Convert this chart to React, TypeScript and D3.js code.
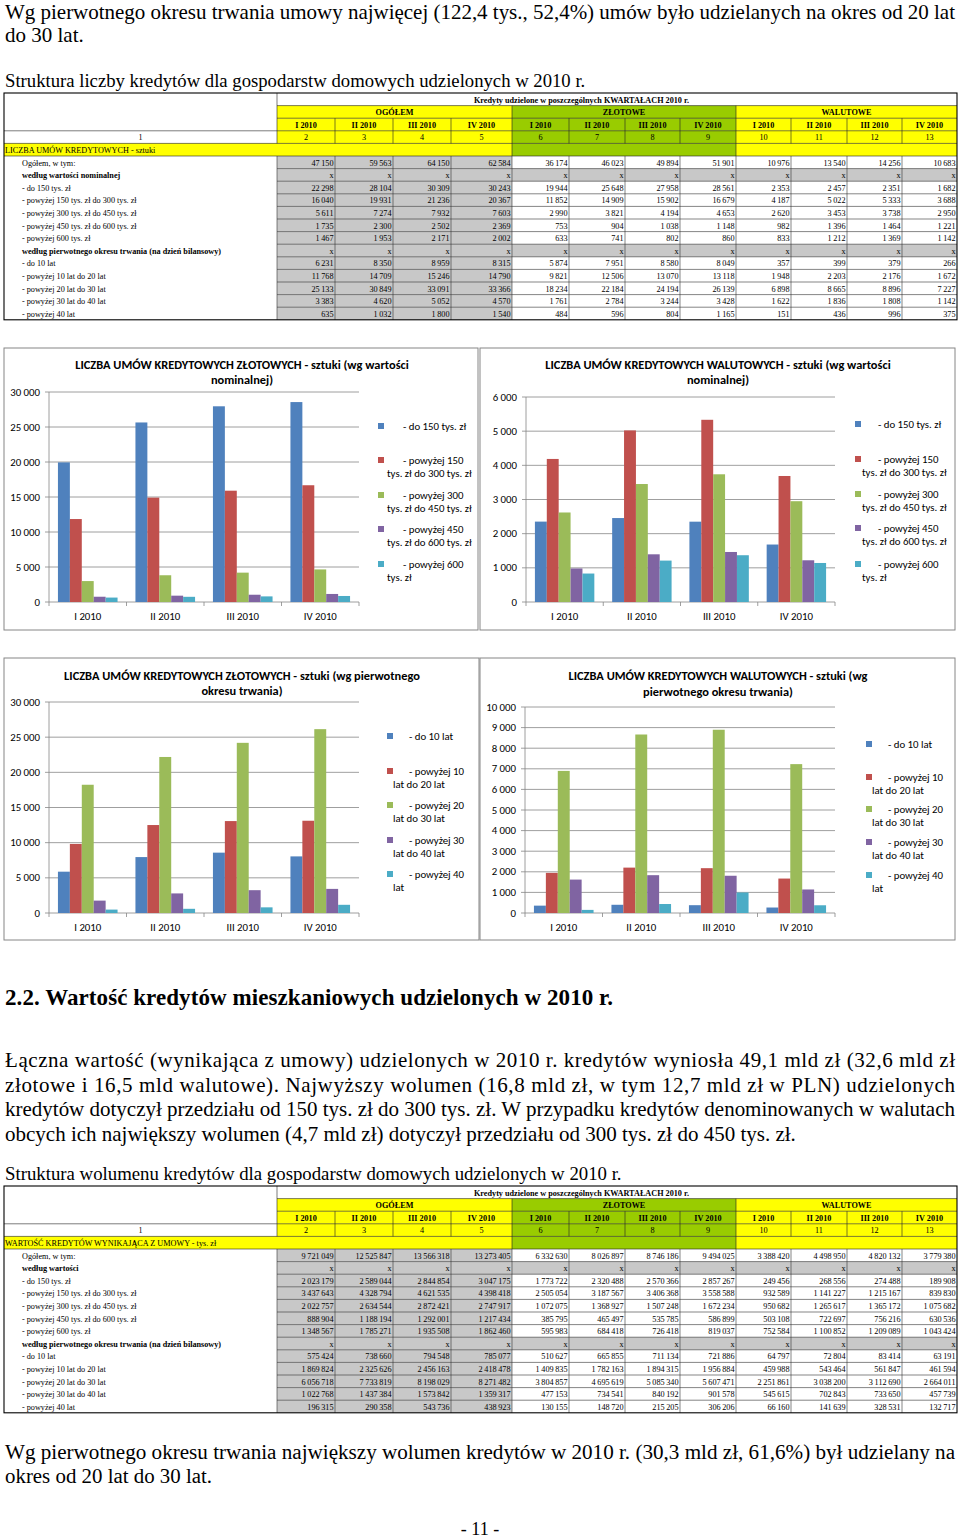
import React from 'react';
import * as d3 from 'd3';

const W = 960;
const H = 1539;

// ---------- data ----------
const quarters = ['I 2010', 'II 2010', 'III 2010', 'IV 2010'];
const colHeaders = ['I 2010', 'II 2010', 'III 2010', 'IV 2010', 'I 2010', 'II 2010', 'III 2010', 'IV 2010', 'I 2010', 'II 2010', 'III 2010', 'IV 2010'];
const groupHeaders = ['OGÓŁEM', 'ZŁOTOWE', 'WALUTOWE'];
const colNumbers = ['1', '2', '3', '4', '5', '6', '7', '8', '9', '10', '11', '12', '13'];

const rowLabels1 = [
  'Ogółem, w tym:',
  'według wartości nominalnej',
  '- do 150 tys. zł',
  '- powyżej 150 tys. zł do 300 tys. zł',
  '- powyżej 300 tys. zł do 450 tys. zł',
  '- powyżej 450 tys. zł do 600 tys. zł',
  '- powyżej 600 tys. zł',
  'według pierwotnego okresu trwania (na dzień bilansowy)',
  '- do 10 lat',
  '- powyżej 10 lat do 20 lat',
  '- powyżej 20 lat do 30 lat',
  '- powyżej 30 lat do 40 lat',
  '- powyżej 40 lat',
];
const rowLabels2 = rowLabels1.map((l, i) => (i === 1 ? 'według wartości' : l));
const boldRows = [1, 7];

// Table 1: number of contracts (pcs)
const cntTotal = [47150, 59563, 64150, 62584, 36174, 46023, 49894, 51901, 10976, 13540, 14256, 10683];
const cntV150 = [22298, 28104, 30309, 30243, 19944, 25648, 27958, 28561, 2353, 2457, 2351, 1682];
const cntV300 = [16040, 19931, 21236, 20367, 11852, 14909, 15902, 16679, 4187, 5022, 5333, 3688];
const cntV450 = [5611, 7274, 7932, 7603, 2990, 3821, 4194, 4653, 2620, 3453, 3738, 2950];
const cntV600 = [1735, 2300, 2502, 2369, 753, 904, 1038, 1148, 982, 1396, 1464, 1221];
const cntVOver = [1467, 1953, 2171, 2002, 633, 741, 802, 860, 833, 1212, 1369, 1142];
const cntP10 = [6231, 8350, 8959, 8315, 5874, 7951, 8580, 8049, 357, 399, 379, 266];
const cntP20 = [11768, 14709, 15246, 14790, 9821, 12506, 13070, 13118, 1948, 2203, 2176, 1672];
const cntP30 = [25133, 30849, 33091, 33366, 18234, 22184, 24194, 26139, 6898, 8665, 8896, 7227];
const cntP40 = [3383, 4620, 5052, 4570, 1761, 2784, 3244, 3428, 1622, 1836, 1808, 1142];
const cntPOver = [635, 1032, 1800, 1540, 484, 596, 804, 1165, 151, 436, 996, 375];

// Table 2: value (thousand PLN)
const valTotal = [9721049, 12525847, 13566318, 13273405, 6332630, 8026897, 8746186, 9494025, 3388420, 4498950, 4820132, 3779380];
const valV150 = [2023179, 2589044, 2844854, 3047175, 1773722, 2320488, 2570366, 2857267, 249456, 268556, 274488, 189908];
const valV300 = [3437643, 4328794, 4621535, 4398418, 2505054, 3187567, 3406368, 3558588, 932589, 1141227, 1215167, 839830];
const valV450 = [2022757, 2634544, 2872421, 2747917, 1072075, 1368927, 1507248, 1672234, 950682, 1265617, 1365172, 1075682];
const valV600 = [888904, 1188194, 1292001, 1217434, 385795, 465497, 535785, 586899, 503108, 722697, 756216, 630536];
const valVOver = [1348567, 1785271, 1935508, 1862460, 595983, 684418, 726418, 819037, 752584, 1100852, 1209089, 1043424];
const valP10 = [575424, 738660, 794548, 785077, 510627, 665855, 711134, 721886, 64797, 72804, 83414, 63191];
const valP20 = [1869824, 2325626, 2456163, 2418478, 1409835, 1782163, 1894315, 1956884, 459988, 543464, 561847, 461594];
const valP30 = [6056718, 7733819, 8198029, 8271482, 3804857, 4695619, 5085340, 5607471, 2251861, 3038200, 3112690, 2664011];
const valP40 = [1022768, 1437384, 1573842, 1359317, 477153, 734541, 840192, 901578, 545615, 702843, 733650, 457739];
const valPOver = [196315, 290358, 543736, 438923, 130155, 148720, 215205, 306206, 66160, 141639, 328531, 132717];

const table1Rows = [cntTotal, null, cntV150, cntV300, cntV450, cntV600, cntVOver, null, cntP10, cntP20, cntP30, cntP40, cntPOver];
const table2Rows = [valTotal, null, valV150, valV300, valV450, valV600, valVOver, null, valP10, valP20, valP30, valP40, valPOver];

const valueSeriesRows = [cntV150, cntV300, cntV450, cntV600, cntVOver];
const periodSeriesRows = [cntP10, cntP20, cntP30, cntP40, cntPOver];

const legendValue = [
  ['- do 150 tys. zł'],
  ['- powyżej 150', 'tys. zł do 300 tys. zł'],
  ['- powyżej 300', 'tys. zł do 450 tys. zł'],
  ['- powyżej 450', 'tys. zł do 600 tys. zł'],
  ['- powyżej 600', 'tys. zł'],
];
const legendPeriod = [
  ['- do 10 lat'],
  ['- powyżej 10', 'lat do 20 lat'],
  ['- powyżej 20', 'lat do 30 lat'],
  ['- powyżej 30', 'lat do 40 lat'],
  ['- powyżej 40', 'lat'],
];

const seriesColors = ['#4F81BD', '#C0504D', '#9BBB59', '#8064A2', '#4BACC6'];

// ---------- helpers ----------
const fmt = (v: number) => d3.format(',d')(v).replace(/,/g, '\u2009');
const fmtAxis = (v: number) => d3.format(',d')(v).replace(/,/g, ' ');

const SERIF = '"Liberation Serif", "Times New Roman", serif';
const SANS = 'Carlito, Lato, "Open Sans", sans-serif';

const colEdges = [4, 277, 335, 393, 451, 512, 569, 625, 680, 736, 791, 847, 902, 957];
const ROW_H = 12.6;
const YELLOW = '#FFFF00';
const GREEN = '#99CC00';
const GREY = '#C8C8C8';

function groupColor(c: number) {
  if (c < 4) return YELLOW;
  if (c < 8) return GREEN;
  return YELLOW;
}

function DataTable({ y0, section, labels, rows }: { y0: number; section: string; labels: string[]; rows: (number[] | null)[] }) {
  const ry = (r: number) => y0 + r * ROW_H;
  const left = colEdges[0];
  const right = colEdges[colEdges.length - 1];
  const lab = colEdges[1];
  const fills: React.ReactNode[] = [];
  const lines: React.ReactNode[] = [];
  const texts: React.ReactNode[] = [];
  const fs = 8.2;

  for (let r = 1; r <= 3; r++) {
    for (let c = 0; c < 12; c++) {
      fills.push(<rect key={`hf${r}-${c}`} x={colEdges[c + 1]} y={ry(r)} width={colEdges[c + 2] - colEdges[c + 1]} height={ROW_H} fill={groupColor(c)} />);
    }
  }
  fills.push(<rect key="s1" x={left} y={ry(4)} width={colEdges[5] - left} height={ROW_H} fill={YELLOW} />);
  fills.push(<rect key="s2" x={colEdges[5]} y={ry(4)} width={colEdges[9] - colEdges[5]} height={ROW_H} fill={GREEN} />);
  fills.push(<rect key="s3" x={colEdges[9]} y={ry(4)} width={right - colEdges[9]} height={ROW_H} fill={YELLOW} />);
  rows.forEach((row, i) => {
    const r = 5 + i;
    for (let c = 0; c < 12; c++) {
      if (row === null || c < 4) {
        fills.push(<rect key={`df${r}-${c}`} x={colEdges[c + 1]} y={ry(r)} width={colEdges[c + 2] - colEdges[c + 1]} height={ROW_H} fill={GREY} />);
      }
    }
  });

  const ln = (k: string, x1: number, y1: number, x2: number, y2: number, w = 0.6, col = '#222') =>
    lines.push(<line key={k} x1={x1} y1={y1} x2={x2} y2={y2} stroke={col} strokeWidth={w} />);

  ln('h1', lab, ry(1), right, ry(1));
  ln('h2', lab, ry(2), right, ry(2));
  ln('h3', left, ry(3), right, ry(3));
  ln('h4', left, ry(4), right, ry(4));
  ln('h5', left, ry(5), right, ry(5));
  ln('vl', lab, ry(0), lab, ry(4));
  [colEdges[5], colEdges[9]].forEach((x, i) => ln(`vg${i}`, x, ry(1), x, ry(2)));
  colEdges.slice(2, 13).forEach((x, i) => ln(`vq${i}`, x, ry(2), x, ry(4)));
  ln('vs1', colEdges[5], ry(4), colEdges[5], ry(5));
  ln('vs2', colEdges[9], ry(4), colEdges[9], ry(5));
  for (let r = 6; r < 18; r++) ln(`dh${r}`, lab, ry(r), right, ry(r), 0.6, '#333');
  colEdges.slice(1, 13).forEach((x, i) => ln(`dv${i}`, x, ry(5), x, ry(18), 0.6, '#333'));
  lines.push(<rect key="frame" x={left} y={ry(0)} width={right - left} height={18 * ROW_H} fill="none" stroke="#000" strokeWidth={1.1} />);

  texts.push(
    <text key="ttl" x={474} y={ry(1) - 3} fontSize={fs} fontWeight="bold" fontFamily={SERIF}>
      Kredyty udzielone w poszczególnych KWARTAŁACH 2010 r.
    </text>
  );
  groupHeaders.forEach((g, i) => {
    const x = (colEdges[1 + i * 4] + colEdges[5 + i * 4]) / 2;
    texts.push(
      <text key={`g${i}`} x={x} y={ry(2) - 3} fontSize={fs} fontWeight="bold" fontFamily={SERIF} textAnchor="middle">
        {g}
      </text>
    );
  });
  colHeaders.forEach((q, c) => {
    const x = (colEdges[c + 1] + colEdges[c + 2]) / 2;
    texts.push(
      <text key={`q${c}`} x={x} y={ry(3) - 3} fontSize={fs} fontWeight="bold" fontFamily={SERIF} textAnchor="middle">
        {q}
      </text>
    );
  });
  colNumbers.forEach((n, c) => {
    const x = (colEdges[c] + colEdges[c + 1]) / 2;
    texts.push(
      <text key={`n${c}`} x={x} y={ry(4) - 3} fontSize={fs} fontFamily={SERIF} textAnchor="middle">
        {n}
      </text>
    );
  });
  texts.push(
    <text key="sec" x={left + 1} y={ry(5) - 3} fontSize={fs} fontFamily={SERIF}>
      {section}
    </text>
  );
  rows.forEach((row, i) => {
    const r = 5 + i;
    texts.push(
      <text key={`l${r}`} x={22} y={ry(r + 1) - 3} fontSize={fs} fontFamily={SERIF} fontWeight={boldRows.includes(i) ? 'bold' : 'normal'}>
        {labels[i]}
      </text>
    );
    for (let c = 0; c < 12; c++) {
      texts.push(
        <text key={`v${r}-${c}`} x={colEdges[c + 2] - 1.5} y={ry(r + 1) - 3} fontSize={fs} fontFamily={SERIF} textAnchor="end">
          {row === null ? 'x' : fmt(row[c])}
        </text>
      );
    }
  });

  return (
    <g>
      <rect x={left} y={ry(0)} width={right - left} height={18 * ROW_H} fill="#fff" />
      {fills}
      {lines}
      {texts}
    </g>
  );
}

type ChartProps = {
  box: { x: number; y: number; w: number; h: number };
  plot: { left: number; right: number; top: number; bottom: number };
  yMax: number;
  yStep: number;
  title: string[];
  titleCx: number;
  titleYs: number[];
  series: number[][];
  legendLines: string[][];
  legend: { mx: number; tx1: number; tx2: number; ys: number[] };
};

const TITLE_FS = 12.4;
const LABEL_FS = 10.8;

function BarChart({ box, plot, yMax, yStep, title, titleCx, titleYs, series, legendLines, legend }: ChartProps) {
  const x0 = d3.scaleBand<string>().domain(quarters).range([plot.left, plot.right]).paddingInner(0).paddingOuter(0);
  const bw = x0.bandwidth();
  const barW = bw / 6.5;
  const x1 = d3.scaleBand<number>().domain(d3.range(series.length)).range([0.75 * barW, bw - 0.75 * barW]).padding(0);
  const y = d3.scaleLinear().domain([0, yMax]).range([plot.bottom, plot.top]);
  const ticks = d3.range(0, yMax + 1, yStep);
  const gridCol = '#868686';

  return (
    <g>
      <rect x={box.x} y={box.y} width={box.w} height={box.h} fill="#fff" stroke="#868686" strokeWidth={1} />
      {title.map((t, i) => (
        <text key={`t${i}`} x={titleCx} y={titleYs[i]} textAnchor="middle" dominantBaseline="central" fontFamily={SANS} fontWeight="bold" fontSize={TITLE_FS}>
          {t}
        </text>
      ))}
      {ticks.map((t) => (
        <g key={`g${t}`}>
          <line x1={plot.left - 4} x2={plot.right} y1={y(t)} y2={y(t)} stroke={gridCol} strokeWidth={0.8} />
          <text x={plot.left - 9} y={y(t)} textAnchor="end" dominantBaseline="central" fontFamily={SANS} fontSize={LABEL_FS}>
            {fmtAxis(t)}
          </text>
        </g>
      ))}
      <line x1={plot.left} x2={plot.left} y1={plot.top} y2={plot.bottom} stroke={gridCol} strokeWidth={0.8} />
      {d3.range(quarters.length + 1).map((i) => (
        <line key={`xt${i}`} x1={plot.left + i * bw} x2={plot.left + i * bw} y1={plot.bottom} y2={plot.bottom + 4} stroke={gridCol} strokeWidth={0.8} />
      ))}
      {quarters.map((q, qi) =>
        series.map((s, si) => (
          <rect key={`b${qi}-${si}`} x={(x0(q) as number) + (x1(si) as number)} y={y(s[qi])} width={x1.bandwidth()} height={plot.bottom - y(s[qi])} fill={seriesColors[si]} />
        ))
      )}
      {quarters.map((q) => (
        <text key={`xl${q}`} x={(x0(q) as number) + bw / 2} y={plot.bottom + 14} textAnchor="middle" dominantBaseline="central" fontFamily={SANS} fontSize={LABEL_FS}>
          {q}
        </text>
      ))}
      {legendLines.map((ls, i) => (
        <g key={`lg${i}`}>
          <rect x={legend.mx} y={legend.ys[i] - 3} width={6} height={6} fill={seriesColors[i]} />
          {ls.map((l, j) => (
            <text key={j} x={j === 0 ? legend.tx1 : legend.tx2} y={legend.ys[i] + j * 13} dominantBaseline="central" fontFamily={SANS} fontSize={LABEL_FS}>
              {l}
            </text>
          ))}
        </g>
      ))}
    </g>
  );
}

const zl = (rows: number[][]) => rows.map((r) => r.slice(4, 8));
const fx = (rows: number[][]) => rows.map((r) => r.slice(8, 12));

export default function App() {
  return (
    <svg width={W} height={H} viewBox={`0 0 ${W} ${H}`} style={{ position: 'absolute', left: 0, top: 0, background: '#fff' }}>
      <rect x={0} y={0} width={W} height={H} fill="#fff" />
      <text x={5} y={19} fontFamily={SERIF} fontSize={21} textLength={950} lengthAdjust="spacing">
        Wg pierwotnego okresu trwania umowy najwięcej (122,4 tys., 52,4%) umów było udzielanych na okres od 20 lat
      </text>
      <text x={5} y={42} fontFamily={SERIF} fontSize={21}>
        do 30 lat.
      </text>
      <text x={5} y={87} fontFamily={SERIF} fontSize={18.7}>
        Struktura liczby kredytów dla gospodarstw domowych udzielonych w 2010 r.
      </text>

      <DataTable y0={93} section="LICZBA UMÓW KREDYTOWYCH - sztuki" labels={rowLabels1} rows={table1Rows} />

      <BarChart
        box={{ x: 4, y: 348, w: 474, h: 282 }}
        plot={{ left: 49, right: 359, top: 392, bottom: 602 }}
        yMax={30000}
        yStep={5000}
        title={['LICZBA UMÓW KREDYTOWYCH ZŁOTOWYCH - sztuki (wg wartości', 'nominalnej)']}
        titleCx={242}
        titleYs={[364, 379]}
        series={zl(valueSeriesRows)}
        legendLines={legendValue}
        legend={{ mx: 378, tx1: 403, tx2: 387, ys: [426, 460, 495, 529, 564] }}
      />
      <BarChart
        box={{ x: 480, y: 348, w: 475, h: 282 }}
        plot={{ left: 526, right: 835, top: 397, bottom: 602 }}
        yMax={6000}
        yStep={1000}
        title={['LICZBA UMÓW KREDYTOWYCH WALUTOWYCH - sztuki (wg wartości', 'nominalnej)']}
        titleCx={718}
        titleYs={[364, 379]}
        series={fx(valueSeriesRows)}
        legendLines={legendValue}
        legend={{ mx: 855, tx1: 878, tx2: 862, ys: [424, 459, 494, 528, 564] }}
      />
      <BarChart
        box={{ x: 4, y: 658, w: 475, h: 282 }}
        plot={{ left: 49, right: 359, top: 702, bottom: 913 }}
        yMax={30000}
        yStep={5000}
        title={['LICZBA UMÓW KREDYTOWYCH ZŁOTOWYCH - sztuki (wg pierwotnego', 'okresu trwania)']}
        titleCx={242}
        titleYs={[675, 690]}
        series={zl(periodSeriesRows)}
        legendLines={legendPeriod}
        legend={{ mx: 387, tx1: 409, tx2: 393, ys: [736, 771, 805, 840, 874] }}
      />
      <BarChart
        box={{ x: 480, y: 658, w: 475, h: 282 }}
        plot={{ left: 525, right: 835, top: 707, bottom: 913 }}
        yMax={10000}
        yStep={1000}
        title={['LICZBA UMÓW KREDYTOWYCH WALUTOWYCH - sztuki (wg', 'pierwotnego okresu trwania)']}
        titleCx={718}
        titleYs={[675, 691]}
        series={fx(periodSeriesRows)}
        legendLines={legendPeriod}
        legend={{ mx: 866, tx1: 888, tx2: 872, ys: [744, 777, 809, 842, 875] }}
      />

      <text x={5} y={1005} fontFamily={SERIF} fontSize={23} fontWeight="bold" textLength={608} lengthAdjust="spacing">
        2.2. Wartość kredytów mieszkaniowych udzielonych w 2010 r.
      </text>
      <text x={5} y={1067} fontFamily={SERIF} fontSize={21} textLength={950} lengthAdjust="spacing">
        Łączna wartość (wynikająca z umowy) udzielonych w 2010 r. kredytów wyniosła 49,1 mld zł (32,6 mld zł
      </text>
      <text x={5} y={1091.5} fontFamily={SERIF} fontSize={21} textLength={950} lengthAdjust="spacing">
        złotowe i 16,5 mld walutowe). Najwyższy wolumen (16,8 mld zł, w tym 12,7 mld zł w PLN) udzielonych
      </text>
      <text x={5} y={1116} fontFamily={SERIF} fontSize={21} textLength={950} lengthAdjust="spacing">
        kredytów dotyczył przedziału od 150 tys. zł do 300 tys. zł. W przypadku kredytów denominowanych w walutach
      </text>
      <text x={5} y={1140.5} fontFamily={SERIF} fontSize={21}>
        obcych ich największy wolumen (4,7 mld zł) dotyczył przedziału od 300 tys. zł do 450 tys. zł.
      </text>
      <text x={5} y={1180} fontFamily={SERIF} fontSize={18.8}>
        Struktura wolumenu kredytów dla gospodarstw domowych udzielonych w 2010 r.
      </text>

      <DataTable y0={1186} section="WARTOŚĆ KREDYTÓW WYNIKAJĄCA Z UMOWY - tys. zł" labels={rowLabels2} rows={table2Rows} />

      <text x={5} y={1459} fontFamily={SERIF} fontSize={20.5} textLength={950} lengthAdjust="spacingAndGlyphs">
        Wg pierwotnego okresu trwania największy wolumen kredytów w 2010 r. (30,3 mld zł, 61,6%) był udzielany na
      </text>
      <text x={5} y={1483} fontFamily={SERIF} fontSize={20.5} textLength={207} lengthAdjust="spacingAndGlyphs">
        okres od 20 lat do 30 lat.
      </text>
      <text x={480} y={1535} fontFamily={SERIF} fontSize={18} textAnchor="middle">
        - 11 -
      </text>
    </svg>
  );
}
